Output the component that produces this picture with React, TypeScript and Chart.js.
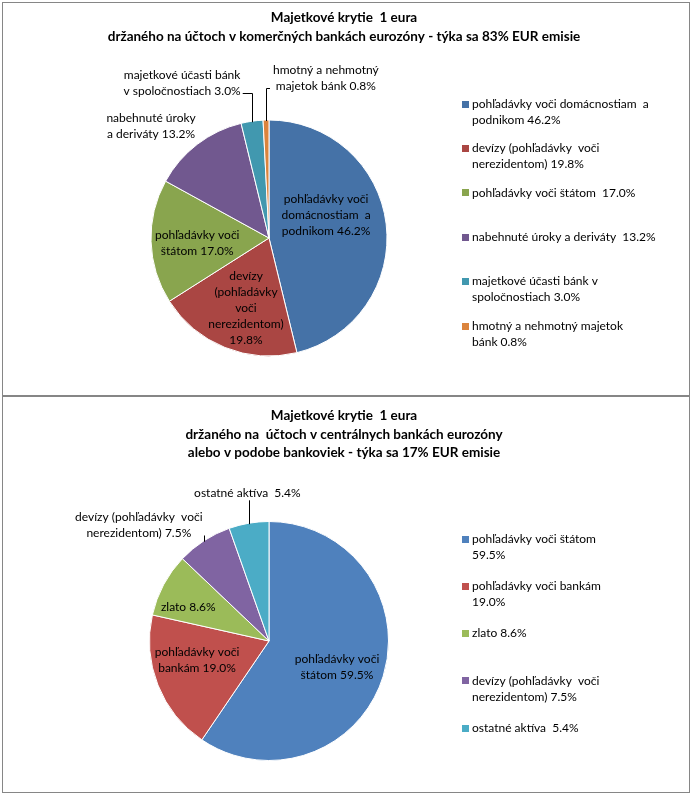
import React, { useEffect, useRef } from "react";
import { Chart, ArcElement, PieController } from "chart.js";

Chart.register(ArcElement, PieController);

const FONT = "Lato, 'Open Sans', sans-serif";

// ---------- chart 1 data ----------
const topTitle = [
  "Majetkové krytie  1 eura",
  "držaného na účtoch v komerčných bankách eurozóny - týka sa 83% EUR emisie",
];
const topCategories = [
  "pohľadávky voči domácnostiam a podnikom",
  "devízy (pohľadávky voči nerezidentom)",
  "pohľadávky voči štátom",
  "nabehnuté úroky a deriváty",
  "majetkové účasti bánk v spoločnostiach",
  "hmotný a nehmotný majetok bánk",
];
const topValues = [46.2, 19.8, 17.0, 13.2, 3.0, 0.8];
const topLegendLines = [
  ["pohľadávky voči domácnostiam  a", "podnikom {v}"],
  ["devízy (pohľadávky  voči", "nerezidentom) {v}"],
  ["pohľadávky voči štátom  {v}"],
  ["nabehnuté úroky a deriváty  {v}"],
  ["majetkové účasti bánk v", "spoločnostiach {v}"],
  ["hmotný a nehmotný majetok", "bánk {v}"],
];
const topPieLines = [
  ["pohľadávky voči", "domácnostiam  a", "podnikom {v}"],
  ["devízy", "(pohľadávky", "voči", "nerezidentom)", "{v}"],
  ["pohľadávky voči", "štátom {v}"],
  ["nabehnuté úroky", "a deriváty {v}"],
  ["majetkové účasti bánk", "v spoločnostiach {v}"],
  ["hmotný a nehmotný", "majetok bánk {v}"],
];

// ---------- chart 2 data ----------
const botTitle = [
  "Majetkové krytie  1 eura",
  "držaného na  účtoch v centrálnych bankách eurozóny",
  "alebo v podobe bankoviek - týka sa 17% EUR emisie",
];
const botCategories = [
  "pohľadávky voči štátom",
  "pohľadávky voči bankám",
  "zlato",
  "devízy (pohľadávky voči nerezidentom)",
  "ostatné aktíva",
];
const botValues = [59.5, 19.0, 8.6, 7.5, 5.4];
const botLegendLines = [
  ["pohľadávky voči štátom", "{v}"],
  ["pohľadávky voči bankám", "{v}"],
  ["zlato {v}"],
  ["devízy (pohľadávky  voči", "nerezidentom) {v}"],
  ["ostatné aktíva  {v}"],
];
const botPieLines = [
  ["pohľadávky voči", "štátom {v}"],
  ["pohľadávky voči", "bankám {v}"],
  ["zlato {v}"],
  ["devízy (pohľadávky  voči", "nerezidentom) {v}"],
  ["ostatné aktíva  {v}"],
];

// ---------- styles ----------
const topColors = ["#4572A7", "#AA4643", "#89A54E", "#71588F", "#4198AF", "#DB843D"];
const botColors = ["#4F81BD", "#C0504D", "#9BBB59", "#8064A2", "#4BACC6"];

type Place = { f: number; da: number; leader?: "left" | "right" | "bottom" };

const topPlace: Place[] = [
  { f: 0.521, da: -15 },
  { f: 0.625, da: -3.8 },
  { f: 0.61, da: -2.3 },
  { f: 1.379, da: -9 },
  { f: 1.506, da: -21, leader: "right" },
  { f: 1.439, da: 21, leader: "left" },
];
const botPlace: Place[] = [
  { f: 0.609, da: 3.8 },
  { f: 0.623, da: 6.8 },
  { f: 0.734, da: -5.1 },
  { f: 1.458, da: -15.4, leader: "right" },
  { f: 1.249, da: 1.4, leader: "bottom" },
];

const fmt = (v: number) => v.toFixed(1) + "%";
const LH = 16;

type Cfg = {
  width: number;
  height: number;
  title: string[];
  titleX: number;
  titleY: number;
  titleStep: number;
  categories: string[];
  values: number[];
  colors: string[];
  legendLines: string[][];
  pieLines: string[][];
  place: Place[];
  legendX: number;
  legendY: number;
  legendStep: number;
  radius: number;
  padding: { left: number; right: number; top: number; bottom: number };
};

function makePlugin(cfg: Cfg) {
  return {
    id: "excelDecor",
    afterDraw(chart: any) {
      const ctx: CanvasRenderingContext2D = chart.ctx;
      ctx.save();
      // title
      ctx.fillStyle = "#000";
      ctx.textAlign = "center";
      ctx.textBaseline = "middle";
      ctx.font = `bold 13.5px ${FONT}`;
      cfg.title.forEach((t, i) => ctx.fillText(t, cfg.titleX, cfg.titleY + i * cfg.titleStep));

      // legend
      ctx.font = `12px ${FONT}`;
      ctx.textAlign = "left";
      cfg.legendLines.forEach((lines, i) => {
        const y0 = cfg.legendY + i * cfg.legendStep;
        ctx.fillStyle = cfg.colors[i];
        ctx.fillRect(cfg.legendX, Math.round(y0 - 3.5), 7, 7);
        ctx.fillStyle = "#000";
        lines.forEach((s, k) => {
          ctx.fillText(s.replace("{v}", fmt(cfg.values[i])), cfg.legendX + 10, y0 + k * LH);
        });
      });

      // data labels
      ctx.textAlign = "center";
      ctx.strokeStyle = "#000";
      ctx.lineWidth = 1;
      const meta = chart.getDatasetMeta(0);
      meta.data.forEach((arc: any, i: number) => {
        const p = arc.getProps(["x", "y", "startAngle", "endAngle", "outerRadius"], true);
        const mid = (p.startAngle + p.endAngle) / 2;
        const pl = cfg.place[i];
        const a = mid + (pl.da * Math.PI) / 180;
        const lx = p.x + Math.cos(a) * pl.f * p.outerRadius;
        const ly = p.y + Math.sin(a) * pl.f * p.outerRadius;
        const lines = cfg.pieLines[i].map((s) => s.replace("{v}", fmt(cfg.values[i])));
        const n = lines.length;
        ctx.fillStyle = "#000";
        lines.forEach((s, k) => ctx.fillText(s, lx, ly + (k - (n - 1) / 2) * LH));
        if (pl.leader) {
          const w = Math.max(...lines.map((s) => ctx.measureText(s).width));
          const ax = Math.round(p.x + Math.cos(mid) * p.outerRadius) + 0.5;
          const ay = p.y + Math.sin(mid) * p.outerRadius + 1;
          const lastY = Math.round(ly + ((n - 1) / 2) * LH + 2) + 0.5;
          ctx.beginPath();
          if (pl.leader === "right") {
            ctx.moveTo(lx + w / 2 + 2, lastY);
            ctx.lineTo(ax, lastY);
            ctx.lineTo(ax, ay);
          } else if (pl.leader === "left") {
            ctx.moveTo(lx - w / 2 - 3, lastY);
            ctx.lineTo(ax, lastY);
            ctx.lineTo(ax, ay);
          } else {
            ctx.moveTo(ax, ly + ((n - 1) / 2) * LH + 7);
            ctx.lineTo(ax, ay);
          }
          ctx.stroke();
        }
      });
      ctx.restore();
    },
  };
}

function PieBox({ cfg, top, outerH }: { cfg: Cfg; top: number; outerH: number }) {
  const ref = useRef<HTMLCanvasElement | null>(null);
  useEffect(() => {
    if (!ref.current) return;
    const chart = new Chart(ref.current, {
      type: "pie",
      data: {
        labels: cfg.categories,
        datasets: [
          {
            data: cfg.values,
            backgroundColor: cfg.colors,
            borderColor: "#ffffff",
            borderWidth: 1,
            radius: cfg.radius,
          } as any,
        ],
      },
      options: {
        responsive: false,
        animation: false,
        events: [],
        layout: { padding: cfg.padding },
        plugins: { legend: { display: false }, tooltip: { enabled: false } } as any,
      },
      plugins: [makePlugin(cfg)],
    });
    return () => chart.destroy();
  }, [cfg]);
  return (
    <div
      style={{
        position: "absolute",
        left: 2,
        top,
        width: cfg.width,
        height: outerH - 2,
        border: "1px solid #868686",
        background: "#fff",
      }}
    >
      <canvas ref={ref} width={cfg.width} height={cfg.height} style={{ display: "block" }} />
    </div>
  );
}

const topCfg: Cfg = {
  width: 686,
  height: 392,
  title: topTitle,
  titleX: 341,
  titleY: 15,
  titleStep: 19,
  categories: topCategories,
  values: topValues,
  colors: topColors,
  legendLines: topLegendLines,
  pieLines: topPieLines,
  place: topPlace,
  legendX: 459,
  legendY: 101,
  legendStep: 44.4,
  radius: 118,
  padding: { left: 141, right: 295, top: 110, bottom: 32 },
};

const botCfg: Cfg = {
  width: 686,
  height: 395,
  title: botTitle,
  titleX: 341,
  titleY: 19,
  titleStep: 18.5,
  categories: botCategories,
  values: botValues,
  colors: botColors,
  legendLines: botLegendLines,
  pieLines: botPieLines,
  place: botPlace,
  legendX: 459,
  legendY: 142,
  legendStep: 47.25,
  radius: 119.5,
  padding: { left: 141, right: 295, top: 119, bottom: 26 },
};

export default function App() {
  return (
    <div style={{ position: "absolute", left: 0, top: 0, width: 691, height: 795, background: "#fff" }}>
      <PieBox cfg={topCfg} top={2} outerH={394} />
      <PieBox cfg={botCfg} top={396} outerH={397} />
    </div>
  );
}
